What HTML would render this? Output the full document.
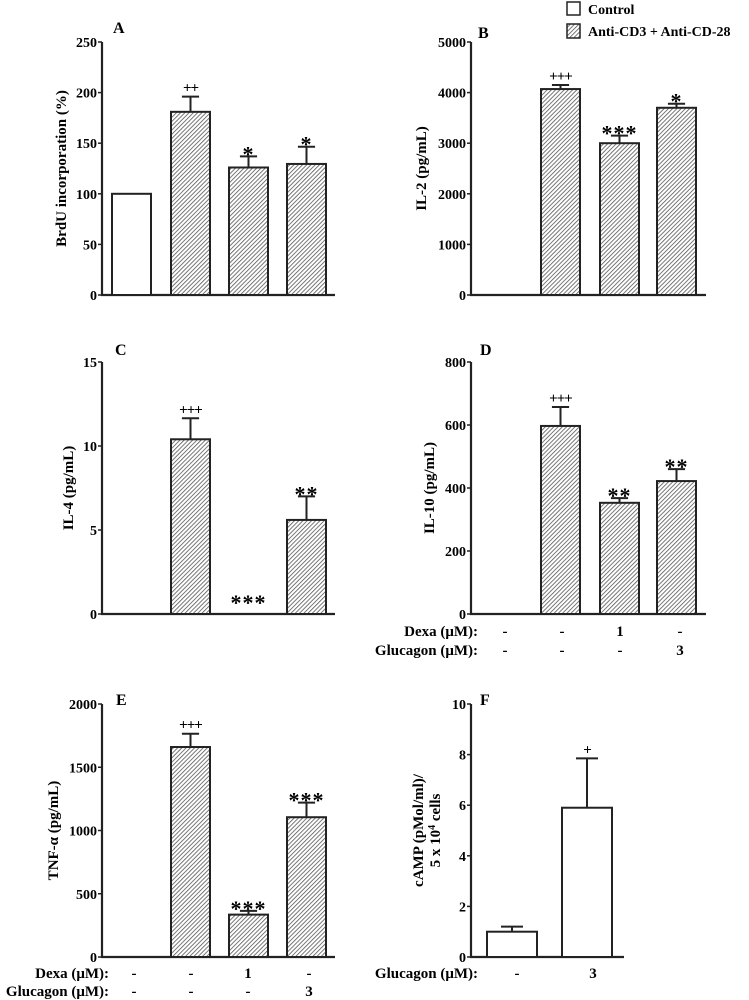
<!DOCTYPE html>
<html><head><meta charset="utf-8"><style>
html,body{margin:0;padding:0;background:#fff;}
svg{display:block;font-family:"Liberation Serif",serif;}
text{font-weight:bold;}
</style></head><body>
<svg id="fig" width="749" height="1000" viewBox="0 0 749 1000" xmlns="http://www.w3.org/2000/svg">
<defs>
<pattern id="hatch" patternUnits="userSpaceOnUse" width="3" height="3" patternTransform="rotate(45)">
<rect width="3" height="3" fill="#fff"/><line x1="0" y1="0" x2="0" y2="3" stroke="#555" stroke-width="1.6"/>
</pattern>
</defs>
<g>
<rect x="567" y="2" width="13" height="13" fill="#fff" stroke="#222" stroke-width="1.5"/>
<text x="588" y="14" font-size="14">Control</text>
<rect x="567" y="24" width="13" height="14" fill="url(#hatch)" stroke="#222" stroke-width="1.5"/>
<text x="588" y="36" font-size="14">Anti-CD3 + Anti-CD-28</text>
</g>
</svg>
<script>
// Panel A
const catsA = ["control","anti","anti+dexa","anti+glucagon"];
const valsA = [100, 181, 126, 129.5];
const errA = [0, 15, 11, 17];
const sigA = ["", "++", "*", "*"];
const ticksA = [0, 50, 100, 150, 200, 250];
// Panel B
const valsB = [0, 4070, 3000, 3700];
const errB = [0, 80, 150, 80];
const sigB = ["", "+++", "***", "*"];
const ticksB = [0, 1000, 2000, 3000, 4000, 5000];
// Panel C
const valsC = [0, 10.4, 0, 5.6];
const errC = [0, 1.25, 0, 1.4];
const sigC = ["", "+++", "***", "**"];
const ticksC = [0, 5, 10, 15];
// Panel D
const valsD = [0, 597, 353, 422];
const errD = [0, 60, 15, 38];
const sigD = ["", "+++", "**", "**"];
const ticksD = [0, 200, 400, 600, 800];
// Panel E
const valsE = [0, 1660, 335, 1105];
const errE = [0, 105, 30, 115];
const sigE = ["", "+++", "***", "***"];
const ticksE = [0, 500, 1000, 1500, 2000];
// Panel F
const catsF = ["control","glucagon"];
const valsF = [1.0, 5.9];
const errF = [0.2, 1.95];
const sigF = ["", "+"];
const ticksF = [0, 2, 4, 6, 8, 10];
const dexaRow = ["-", "-", "1", "-"];
const glucRow = ["-", "-", "-", "3"];
const glucRowF = ["-", "3"];

const NS = "http://www.w3.org/2000/svg";
const svg = document.getElementById("fig");
function mk(tag, attrs, parent) {
  const e = document.createElementNS(NS, tag);
  for (const k in attrs) e.setAttribute(k, attrs[k]);
  (parent || svg).appendChild(e);
  return e;
}

function panel(o) {
  const g = mk("g", {});
  
  
  const maxT = o.ticks[o.ticks.length - 1];
  const y = v => o.y0 - (v / maxT) * (o.y0 - o.yTop);
  const ax = mk("path", {d: `M${o.ax} ${o.yTop} V${o.y0} H${o.axEnd}`, fill: "none", stroke: "#222", "stroke-width": 2.2}, g);
  
  
  o.ticks.forEach(t => {
    const ty = y(t);
    const tk = mk("line", {x1: o.ax - 4, x2: o.ax, y1: ty, y2: ty, stroke: "#222", "stroke-width": 1.5}, g);
    
    
    const tl = mk("text", {x: o.ax - 5, y: ty + 5, "text-anchor": "end", "font-size": 14}, g);
    
    
    tl.textContent = t;
  });
  const lt = mk("text", {x: o.lx, y: o.ly, "font-size": 16}, g);
  
  
  lt.textContent = o.letter;
  o.title.forEach((line, i) => {
    const tt = mk("text", {x: 0, y: 0, "text-anchor": "middle", "font-size": 15,
      transform: `translate(${o.tx + i * 17},${(o.yTop + o.y0) / 2}) rotate(-90)`}, g);
    
    
    tt.innerHTML = line;
  });
  o.vals.forEach((v, i) => {
    const x0 = o.bx[i], w = o.bw;
    const cx = x0 + w / 2;
    if (v > 0) {
      const eT = y(v + o.err[i]);
      if (o.err[i] > 0) {
        const e = mk("path", {d: `M${cx} ${y(v)} V${eT} M${cx - w * 0.22} ${eT} H${cx + w * 0.22}`, stroke: "#222", "stroke-width": 2, fill: "none"}, g);
        
        
      }
      const r = mk("rect", {x: x0, y: y(v), width: w, height: o.y0 - y(v),
        fill: o.fills[i], stroke: "#222", "stroke-width": 2}, g);
      
      
    }
    if (o.sig[i]) {
      const top = v > 0 ? y(v + o.err[i]) : o.y0 - 6;
      const plus = o.sig[i][0] === "+";
      const s = mk("text", {x: cx, y: plus ? top - 4 : top + (v > 0 ? 5 : 2), "text-anchor": "middle",
        "font-size": plus ? 15 : 22, "font-weight": plus ? "normal" : "bold", "letter-spacing": plus ? -1 : 1}, g);
      
      
      s.textContent = o.sig[i];
    }
  });
  if (o.rows) {
    o.rows.forEach((row, ri) => {
      const rl = mk("text", {x: o.ax + 7, y: row.y, "text-anchor": "end", "font-size": 15}, g);
      
      
      rl.innerHTML = row.label;
      row.vals.forEach((t, i) => {
        const c = mk("text", {x: o.rowX[i], y: row.y, "text-anchor": "middle", "font-size": 15}, g);
        
        
        c.textContent = t;
      });
    });
  }
}
const hatchFills = ["#fff", "url(#hatch)", "url(#hatch)", "url(#hatch)"];
const L = {bx: [112, 171, 229, 287], rowX: [134, 191, 248, 309]};
const R = {bx: [482, 541, 600, 657], rowX: [505, 562, 620, 680]};
panel({letter: "A", ax: 102, axEnd: 335, yTop: 42, y0: 295, ticks: ticksA, vals: valsA, err: errA, sig: sigA,
  bx: L.bx, bw: 39, fills: hatchFills, lx: 113, ly: 33, tx: 66, title: ["BrdU incorporation (%)"]});
panel({letter: "B", ax: 471, axEnd: 706, yTop: 42, y0: 295, ticks: ticksB, vals: valsB, err: errB, sig: sigB,
  bx: R.bx, bw: 39, fills: hatchFills, lx: 478, ly: 38, tx: 426, title: ["IL-2 (pg/mL)"]});
panel({letter: "C", ax: 102, axEnd: 335, yTop: 362, y0: 614, ticks: ticksC, vals: valsC, err: errC, sig: sigC,
  bx: L.bx, bw: 39, fills: hatchFills, lx: 115, ly: 355, tx: 73, title: ["IL-4 (pg/mL)"]});
panel({letter: "D", ax: 471, axEnd: 706, yTop: 362, y0: 614, ticks: ticksD, vals: valsD, err: errD, sig: sigD,
  bx: R.bx, bw: 39, fills: hatchFills, lx: 480, ly: 355, tx: 434, title: ["IL-10 (pg/mL)"],
  rowX: R.rowX, rows: [{y: 636, label: "Dexa (&#956;M):", vals: dexaRow}, {y: 655, label: "Glucagon (&#956;M):", vals: glucRow}]});
panel({letter: "E", ax: 102, axEnd: 335, yTop: 704, y0: 957, ticks: ticksE, vals: valsE, err: errE, sig: sigE,
  bx: L.bx, bw: 39, fills: hatchFills, lx: 116, ly: 705, tx: 58, title: ["TNF-&#945; (pg/mL)"],
  rowX: L.rowX, rows: [{y: 978, label: "Dexa (&#956;M):", vals: dexaRow}, {y: 996, label: "Glucagon (&#956;M):", vals: glucRow}]});
panel({letter: "F", ax: 471, axEnd: 624, yTop: 704, y0: 957, ticks: ticksF, vals: valsF, err: errF, sig: sigF,
  bx: [487, 562], bw: 50, fills: ["#fff", "#fff"], lx: 480, ly: 705, tx: 423,
  title: ["cAMP (pMol/ml)/", "5 x 10<tspan dy='-5' font-size='10'>4</tspan><tspan dy='5'> cells</tspan>"],
  rowX: [517, 593], rows: [{y: 978, label: "Glucagon (&#956;M):", vals: glucRowF}]});
</script>
</body></html>
